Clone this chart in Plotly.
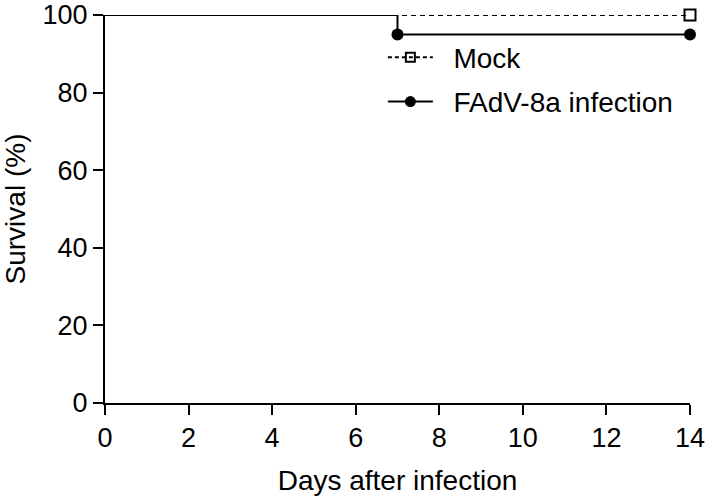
import plotly.graph_objects as go

mock_days = [0, 14]
mock_surv = [100, 100]
inf_days = [0, 7, 14]
inf_surv = [100, 95, 95]
x_ticks = [0, 2, 4, 6, 8, 10, 12, 14]
y_ticks = [0, 20, 40, 60, 80, 100]
legend_names = ["Mock", "FAdV-8a infection"]

FONT = "Liberation Sans, Arial, sans-serif"
TICK_SIZE = 27
TITLE_SIZE = 28
PAD = "\u00a0\u00a0"

fig = go.Figure()
fig.add_trace(go.Scatter(
    x=mock_days, y=mock_surv, mode="lines+markers", line_shape="hv",
    line=dict(color="black", width=2, dash="5px,4px"),
    marker=dict(symbol="square-open", size=[0, 11], color="black", opacity=1,
                line=dict(width=2, color="black")),
    cliponaxis=False, showlegend=False, hoverinfo="skip",
))
fig.add_trace(go.Scatter(
    x=inf_days, y=inf_surv, mode="lines+markers", line_shape="hv",
    line=dict(color="black", width=2),
    marker=dict(symbol="circle", size=[0, 12, 12], color="black", opacity=1,
                line=dict(width=0, color="black")),
    cliponaxis=False, showlegend=False, hoverinfo="skip",
))
# legend entries
fig.add_trace(go.Scatter(
    x=[None], y=[None], mode="lines+markers", name=PAD + legend_names[0], legendgroup="a",
    line=dict(color="black", width=2, dash="4px,3px"),
    marker=dict(symbol="square-open", size=9, color="black", line=dict(width=2, color="black")),
))
fig.add_trace(go.Scatter(
    x=[None], y=[None], mode="lines+markers", name=PAD + legend_names[1], legendgroup="b",
    line=dict(color="black", width=2),
    marker=dict(symbol="circle", size=11, color="black"),
))

axis_common = dict(
    showline=True, linewidth=2, linecolor="black", ticks="outside", ticklen=10,
    tickwidth=2, tickcolor="black", showgrid=False, zeroline=False, automargin=False,
    tickfont=dict(family=FONT, size=TICK_SIZE, color="black"),
)
fig.update_xaxes(range=[0, 14], tickvals=x_ticks,
                 title=dict(text="Days after infection", font=dict(family=FONT, size=TITLE_SIZE, color="black"), standoff=18),
                 **axis_common)
fig.update_yaxes(range=[0, 100], tickvals=y_ticks,
                 title=dict(text="Survival (%)", font=dict(family=FONT, size=TITLE_SIZE, color="black"), standoff=12),
                 **axis_common)

fig.update_layout(
    width=709, height=497,
    margin=dict(l=105, r=19, t=15, b=94),
    plot_bgcolor="white", paper_bgcolor="white",
    font=dict(family=FONT, size=TITLE_SIZE, color="black"),
    hovermode=False,
    legend=dict(x=0.475, y=0.955, xanchor="left", yanchor="top", itemwidth=45,
                font=dict(family=FONT, size=TITLE_SIZE, color="black"),
                bgcolor="rgba(0,0,0,0)", tracegroupgap=5),
)
fig.write_html("out.html", config={"displayModeBar": False},
               post_script="document.body.style.margin='0';")
